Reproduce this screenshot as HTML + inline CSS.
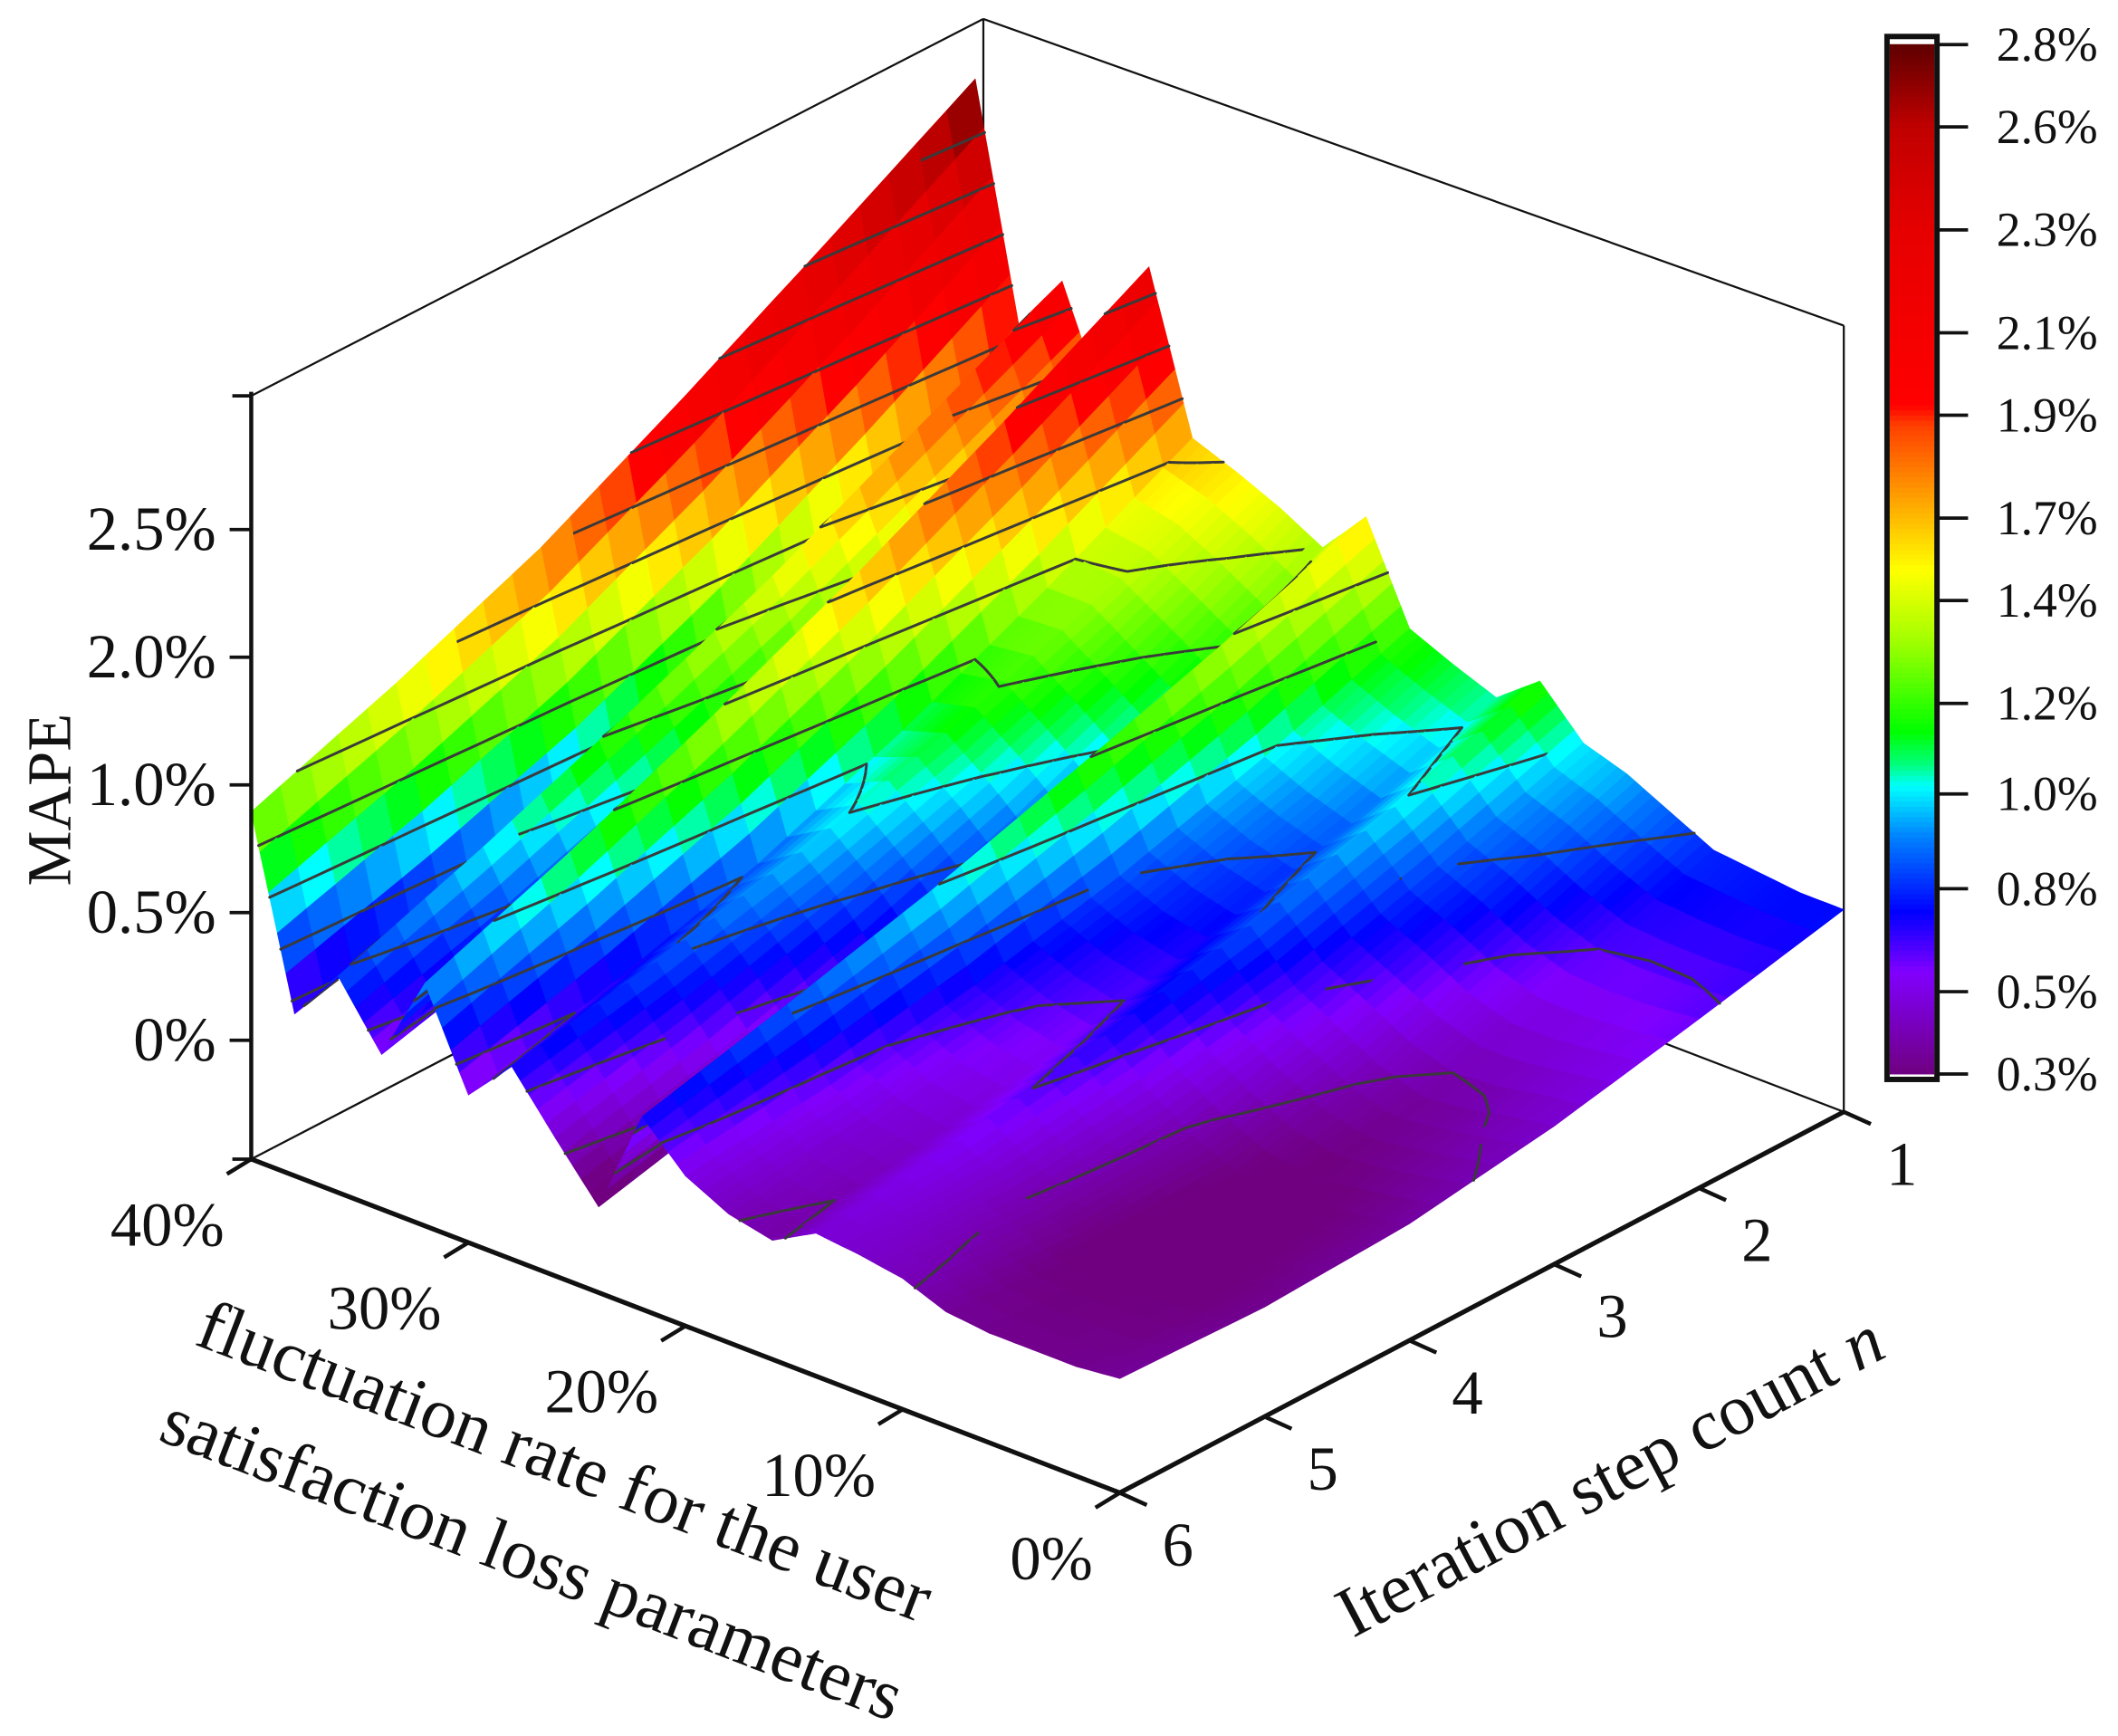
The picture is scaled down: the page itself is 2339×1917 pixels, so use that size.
<!DOCTYPE html>
<html><head><meta charset="utf-8"><style>
html,body{margin:0;padding:0;background:#fff;}
svg{display:block;}
text{font-family:"Liberation Serif",serif;fill:#111;}
</style></head><body>
<svg id="chart" width="2339" height="1917" viewBox="0 0 1568 1285" preserveAspectRatio="none" xmlns="http://www.w3.org/2000/svg">
<g id="box" stroke="#111" fill="none">
  <line x1="186" y1="293" x2="728" y2="14" stroke-width="1.5"/>
  <line x1="728" y1="14" x2="1365" y2="241" stroke-width="1.5"/>
  <line x1="1365" y1="241" x2="1365" y2="823" stroke-width="1.5"/>
  <line x1="728" y1="14" x2="728" y2="578" stroke-width="1.5"/>
  <line x1="186" y1="858" x2="725" y2="578" stroke-width="1.5"/>
  <line x1="1365" y1="823" x2="725" y2="578" stroke-width="1.5"/>
</g>
<g id="surface"></g>
<g id="axes" stroke="#111" fill="none">
  <line x1="186" y1="290" x2="186" y2="860" stroke-width="3"/>
  <line x1="186" y1="858" x2="829" y2="1105" stroke-width="3.5"/>
  <line x1="829" y1="1105" x2="1365" y2="823" stroke-width="3.5"/>
</g>
<g id="labels"></g>
<g id="colorbar"></g>
</svg>
<script>
// ---- data ----
const fluctValues = [0,2,4,6,8,10,12,14,16,18,20,22,24,26,28,30,32,34,36,38,40];
const iterSteps = [1,2,3,4,5,6];
// MAPE (%) rows by fluctuation value, columns by iteration step 1..6
const mapeRows = [
 [0.72,0.58,0.45,0.36,0.33,0.35],
 [0.72,0.56,0.42,0.32,0.30,0.33],
 [0.74,0.55,0.38,0.29,0.29,0.33],
 [0.76,0.56,0.36,0.27,0.28,0.33],
 [0.85,0.62,0.42,0.30,0.29,0.35],
 [0.94,0.72,0.52,0.38,0.36,0.42],
 [1.00,0.80,0.62,0.50,0.44,0.45],
 [1.19,0.98,0.80,0.66,0.54,0.47],
 [1.05,0.84,0.68,0.54,0.44,0.37],
 [1.12,0.90,0.72,0.58,0.47,0.41],
 [1.20,0.98,0.80,0.66,0.56,0.50],
 [1.60,1.38,1.18,0.99,0.83,0.68],
 [1.40,1.10,0.82,0.58,0.38,0.23],
 [1.50,1.22,0.98,0.78,0.60,0.45],
 [1.58,1.34,1.12,0.94,0.80,0.68],
 [1.65,1.34,1.06,0.82,0.64,0.49],
 [2.30,1.97,1.66,1.38,1.12,0.89],
 [1.63,1.36,1.10,0.88,0.68,0.52],
 [2.10,1.80,1.50,1.24,1.00,0.78],
 [1.85,1.50,1.18,0.92,0.72,0.55],
 [2.81,2.46,2.12,1.80,1.55,1.33]
];
const contourLevels = [0.4,0.6,0.8,1.0,1.2,1.4,1.6,1.8,2.0,2.2,2.4,2.6];
const zTickLabels = ["0%","0.5%","1.0%","2.0%","2.5%"];
const fTickValues = [40,30,20,10,0];
const fTickLabels = ["40%","30%","20%","10%","0%"];
const nTickValues = [1,2,3,4,5,6];
const cbTickValues = [2.8,2.6,2.35,2.1,1.9,1.65,1.45,1.2,0.98,0.75,0.5,0.3];
const cbTickLabels = ["2.8%","2.6%","2.3%","2.1%","1.9%","1.7%","1.4%","1.2%","1.0%","0.8%","0.5%","0.3%"];

// ---- scales ----
const NS='http://www.w3.org/2000/svg';
function proj(f,n,v){
  const tf=f/40, tn=(6-n)/5;
  return [829-643*tf+536*tn, 1105-247*tf-282*tn-(23+176*v)];
}
const vMin=0.3, vMax=2.8;
const cStops=[[0,[112,0,128]],[0.1,[128,0,255]],[0.158,[0,0,255]],[0.23,[0,128,255]],[0.28,[0,255,255]],[0.30,[0,255,128]],[0.333,[0,255,0]],[0.42,[160,255,0]],[0.49,[255,255,0]],[0.56,[255,160,0]],[0.63,[255,64,0]],[0.65,[255,0,0]],[0.82,[230,0,0]],[0.92,[192,0,0]],[1,[96,0,0]]];
function cmap(v){
  let t=(v-vMin)/(vMax-vMin); t=Math.max(0,Math.min(1,t));
  for(let i=1;i<cStops.length;i++){
    if(t<=cStops[i][0]){
      const a=cStops[i-1],b=cStops[i],u=(t-a[0])/(b[0]-a[0]);
      const c=a[1].map((x,k)=>Math.round(x+(b[1][k]-x)*u));
      return 'rgb('+c.join(',')+')';
    }
  }
  return 'rgb(96,0,0)';
}
function mk(tag,attrs,parent){const e=document.createElementNS(NS,tag);for(const k in attrs)e.setAttribute(k,attrs[k]);parent.appendChild(e);return e;}

// ---- surface ----
const surf=document.getElementById('surface');
const SUB=5;
const polys=[];
for(let i=0;i<fluctValues.length-1;i++){
  for(let j=0;j<iterSteps.length-1;j++){
    const f0=fluctValues[i],f1=fluctValues[i+1],n0=iterSteps[j],n1=iterSteps[j+1];
    const v00=mapeRows[i][j],v01=mapeRows[i][j+1],v10=mapeRows[i+1][j],v11=mapeRows[i+1][j+1];
    const bil=(a,b)=>v00*(1-a)*(1-b)+v10*a*(1-b)+v01*(1-a)*b+v11*a*b;
    for(let a=0;a<SUB;a++)for(let b=0;b<SUB;b++){
      const a0=a/SUB,a1=(a+1)/SUB,b0=b/SUB,b1=(b+1)/SUB;
      const corners=[[a0,b0],[a1,b0],[a1,b1],[a0,b1]].map(([x,y])=>{
        const f=f0+(f1-f0)*x,n=n0+(n1-n0)*y,v=bil(x,y);return {f,n,v,p:proj(f,n,v)};});
      const vm=bil((a0+a1)/2,(b0+b1)/2);
      const fm=f0+(f1-f0)*(a0+a1)/2, nm=n0+(n1-n0)*(b0+b1)/2;
      polys.push({corners,vm,depth:fm/40+(6-nm)/5});
    }
  }
}
polys.sort((p,q)=>q.depth-p.depth);
polys.forEach(p=>{
  const col=cmap(p.vm);
  const el=mk('polygon',{points:p.corners.map(c=>c.p[0].toFixed(1)+','+c.p[1].toFixed(1)).join(' '),fill:col,stroke:col,'stroke-width':'0.45','stroke-linejoin':'round'},surf);
  
  
  contourLevels.forEach(L=>{
    const pts=[];
    for(let k=0;k<4;k++){
      const A=p.corners[k],B=p.corners[(k+1)%4];
      if((A.v-L)*(B.v-L)<0){
        const u=(L-A.v)/(B.v-A.v);
        pts.push(proj(A.f+(B.f-A.f)*u,A.n+(B.n-A.n)*u,L));
      }
    }
    if(pts.length>=2){
      const s=mk('line',{x1:pts[0][0].toFixed(1),y1:pts[0][1].toFixed(1),x2:pts[1][0].toFixed(1),y2:pts[1][1].toFixed(1),stroke:'#3a3a3a','stroke-width':2,'stroke-linecap':'round'},surf);
      
      
    }
  });
});

// ---- labels & ticks ----
const lab=document.getElementById('labels');
const axes=document.getElementById('axes');
zTickLabels.forEach((s,i)=>{
  const y=770-i*94.5;
  const tk=mk('line',{x1:170,y1:y,x2:186,y2:y,'stroke-width':2.5},axes);
  
  
  const t=mk('text',{x:160,y:y+15,'font-size':46,'text-anchor':'end'},lab);
  t.textContent=s;
  
  
});
[293,858].forEach(y=>{const tk=mk('line',{x1:172,y1:y,x2:186,y2:y,'stroke-width':2.5},axes);
  
  });
fTickValues.forEach((fv,i)=>{
  const t=fv/40, x=829-643*t, y=1105-247*t;
  const tk=mk('line',{x1:x,y1:y,x2:x-18,y2:y+11,'stroke-width':3},axes);
  
  
  const tx=mk('text',{x:x-20,y:y+64,'font-size':46,'text-anchor':'end'},lab);
  tx.textContent=fTickLabels[i];
  
  
});
nTickValues.forEach(nv=>{
  const t=(6-nv)/5, x=829+536*t, y=1105-282*t;
  const tk=mk('line',{x1:x,y1:y,x2:x+20,y2:y+9,'stroke-width':3},axes);
  
  
  const tx=mk('text',{x:x+43,y:y+54,'font-size':46,'text-anchor':'middle'},lab);
  tx.textContent=String(nv);
  
  
});
function rotText(str,x,y,ang,size,name){
  const t=mk('text',{x:0,y:0,'font-size':size,'text-anchor':'middle',transform:`translate(${x},${y}) rotate(${ang})`},lab);
  t.innerHTML=str;
  
  
}
rotText('MAPE',52,592,-90,46,'z-axis-title');
rotText('fluctuation rate for the user',412,1098,21,53,'fluctuation-axis-title-line1');
rotText('satisfaction loss parameters',388,1170,21,53,'fluctuation-axis-title-line2');
rotText('Iteration step count <tspan font-style="italic">n</tspan>',1200,1108,-27.8,53,'iteration-axis-title');

// ---- colorbar ----
const cb=document.getElementById('colorbar');
const cbTop=33,cbBot=795,cbX=1399,cbW=33;
const cbY=v=>cbBot-(v-vMin)/(vMax-vMin)*(cbBot-cbTop);
for(let k=0;k<200;k++){
  const v0=vMin+(vMax-vMin)*k/200,v1=vMin+(vMax-vMin)*(k+1)/200;
  const r=mk('rect',{x:cbX,y:cbY(v1)-0.3,width:cbW,height:cbY(v0)-cbY(v1)+0.6,fill:cmap((v0+v1)/2)},cb);
  
  
}
mk('rect',{x:cbX-2,y:cbTop-6,width:cbW+4,height:cbBot-cbTop+10,fill:'none',stroke:'#111','stroke-width':4},cb);
cbTickValues.forEach((v,i)=>{
  const y=cbY(v);
  const tk=mk('line',{x1:cbX+cbW+2,y1:y,x2:cbX+cbW+25,y2:y,stroke:'#111','stroke-width':2.5},cb);
  
  
  const t=mk('text',{x:1478,y:y+12,'font-size':36},cb);
  t.textContent=cbTickLabels[i];
  
  
});
</script>
</body></html>
